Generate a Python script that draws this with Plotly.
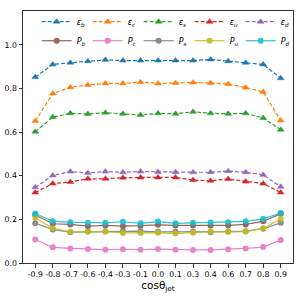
import plotly.graph_objects as go

x_labels = ["-0.9", "-0.8", "-0.7", "-0.6", "-0.4", "-0.3", "-0.1", "0.0",
            "0.1", "0.3", "0.4", "0.6", "0.7", "0.8", "0.9"]

eps_b = [0.852, 0.910, 0.918, 0.925, 0.931, 0.928, 0.928, 0.928, 0.928, 0.928, 0.933, 0.925, 0.918, 0.910, 0.847]
eps_c = [0.651, 0.777, 0.805, 0.816, 0.823, 0.823, 0.829, 0.823, 0.825, 0.827, 0.825, 0.820, 0.804, 0.784, 0.653]
eps_s = [0.602, 0.669, 0.686, 0.683, 0.689, 0.684, 0.678, 0.686, 0.684, 0.693, 0.686, 0.684, 0.686, 0.665, 0.611]
eps_u = [0.323, 0.364, 0.371, 0.386, 0.386, 0.391, 0.392, 0.392, 0.392, 0.380, 0.377, 0.385, 0.373, 0.364, 0.323]
eps_d = [0.347, 0.401, 0.419, 0.413, 0.419, 0.416, 0.419, 0.417, 0.416, 0.416, 0.416, 0.421, 0.416, 0.404, 0.350]

P_b = [0.220, 0.180, 0.177, 0.169, 0.172, 0.169, 0.171, 0.175, 0.172, 0.172, 0.172, 0.172, 0.177, 0.191, 0.226]
P_c = [0.108, 0.072, 0.067, 0.064, 0.061, 0.063, 0.061, 0.064, 0.061, 0.060, 0.060, 0.063, 0.067, 0.073, 0.105]
P_s = [0.182, 0.153, 0.141, 0.144, 0.144, 0.145, 0.146, 0.143, 0.143, 0.143, 0.141, 0.144, 0.146, 0.157, 0.184]
P_u = [0.207, 0.159, 0.143, 0.144, 0.144, 0.138, 0.138, 0.139, 0.135, 0.139, 0.144, 0.143, 0.144, 0.159, 0.202]
P_d = [0.227, 0.191, 0.187, 0.184, 0.184, 0.189, 0.182, 0.190, 0.182, 0.184, 0.186, 0.187, 0.191, 0.202, 0.229]

eps_series = [("b", eps_b, "#1f77b4"), ("c", eps_c, "#ff7f0e"), ("s", eps_s, "#2ca02c"),
              ("u", eps_u, "#d62728"), ("d", eps_d, "#9467bd")]
P_series = [("b", P_b, "#8c564b"), ("c", P_c, "#e377c2"), ("s", P_s, "#7f7f7f"),
            ("u", P_u, "#bcbd22"), ("d", P_d, "#17becf")]

xs = list(range(len(x_labels)))
fig = go.Figure()
for name, vals, col in eps_series:
    fig.add_trace(go.Scatter(
        x=xs, y=vals, mode="lines+markers",
        name=f"<i>ε<sub>{name}</sub></i>",
        line=dict(color=col, width=1.2, dash="4px,2px"),
        marker=dict(symbol="triangle-up", size=6, color=col,
                    line=dict(color=col, width=0.5)),
    ))
for name, vals, col in P_series:
    fig.add_trace(go.Scatter(
        x=xs, y=vals, mode="lines+markers",
        name=f"<i>P<sub>{name}</sub></i>",
        line=dict(color=col, width=1.2),
        marker=dict(symbol="circle", size=6, color=col),
        opacity=0.9,
    ))

fig.update_layout(
    width=300, height=300,
    margin=dict(l=23, r=7, t=7, b=37),
    plot_bgcolor="white", paper_bgcolor="white",
    font=dict(family="DejaVu Sans", size=8, color="black"),
    showlegend=True,
    legend=dict(orientation="h", x=0.995, xanchor="right", y=1.015, yanchor="top",
                entrywidth=6, entrywidthmode="pixels", itemwidth=30,
                font=dict(size=8), bgcolor="rgba(255,255,255,0)",
                tracegroupgap=0),
)
fig.update_xaxes(
    range=[-0.7, 14.7], tickmode="array", tickvals=xs, ticktext=x_labels,
    showgrid=False, zeroline=False, showline=True, mirror=True, automargin=False,
    linecolor="#333333", linewidth=1, ticks="outside", ticklen=3.5,
    tickwidth=0.8, tickcolor="#333333", tickfont=dict(size=7.8),
    title=dict(text="cosθ<sub>jet</sub>", font=dict(size=10.5), standoff=1),
)
fig.update_yaxes(
    range=[0, 1.155], tickmode="array", tickvals=[0, 0.2, 0.4, 0.6, 0.8, 1.0],
    ticktext=["0.0", "0.2", "0.4", "0.6", "0.8", "1.0"], automargin=False,
    showgrid=False, zeroline=False, showline=True, mirror=True,
    linecolor="#333333", linewidth=1, ticks="outside", ticklen=3.5,
    tickwidth=0.8, tickcolor="#333333", tickfont=dict(size=7.8),
)

fig.write_html("out.html", config={"displayModeBar": False},
               post_script="document.body.style.margin='0px';")
